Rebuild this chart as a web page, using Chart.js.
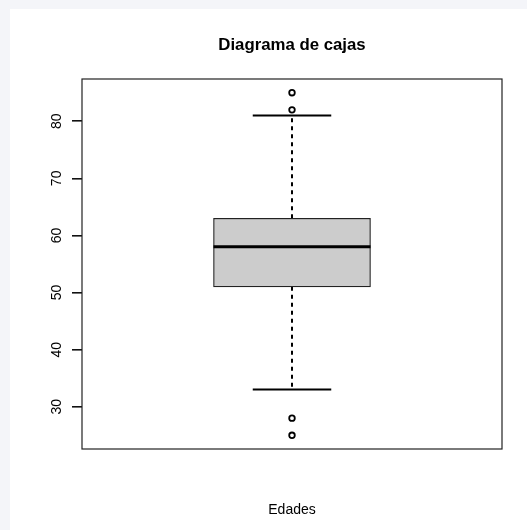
<!DOCTYPE html>
<html>
<head>
<meta charset="utf-8">
<script src="https://cdn.jsdelivr.net/npm/chart.js@4/dist/chart.umd.min.js"></script>
<style>
  html, body { margin: 0; padding: 0; background: #f4f5f9; }
  #panel { position: absolute; left: 10px; top: 9px; width: 517px; height: 521px; background: #ffffff; }
  canvas { display: block; }
</style>
</head>
<body>
<div id="panel"><canvas id="chart" width="517" height="521"></canvas></div>
<script>
// Age distribution summary (years)
const categories = ['Edades'];
const quartiles = [51, 58, 63];      // Q1, median, Q3
const whiskers = [33, 81];           // lower and upper whisker ends
const outliers = [25, 28, 82, 85];
const yTicks = [30, 40, 50, 60, 70, 80];
const yRange = [22.6, 87.4];
const chartTitle = 'Diagrama de cajas';
const xTitle = 'Edades';

const FONT = "'Liberation Sans', Arial, Helvetica, sans-serif";

// Whiskers, caps, median and frame drawn from the box element and the y scale
const boxWhiskers = {
  id: 'boxWhiskers',
  beforeDatasetsDraw(chart) {
    const { ctx } = chart;
    const y = chart.scales.y;
    const bar = chart.getDatasetMeta(1).data[0];
    const { x: cx, width } = bar.getProps(['x', 'width'], true);
    const capHalf = width / 4;
    ctx.save();
    ctx.strokeStyle = '#000';
    ctx.lineWidth = 2;
    ctx.setLineDash([4, 4]);
    ctx.beginPath();
    ctx.moveTo(cx, y.getPixelForValue(quartiles[2]));
    ctx.lineTo(cx, y.getPixelForValue(whiskers[1]));
    ctx.moveTo(cx, y.getPixelForValue(quartiles[0]));
    ctx.lineTo(cx, y.getPixelForValue(whiskers[0]));
    ctx.stroke();
    ctx.setLineDash([]);
    ctx.beginPath();
    for (const w of whiskers) {
      const py = y.getPixelForValue(w);
      ctx.moveTo(cx - capHalf, py);
      ctx.lineTo(cx + capHalf, py);
    }
    ctx.stroke();
    ctx.restore();
  },
  afterDatasetsDraw(chart) {
    const { ctx } = chart;
    const y = chart.scales.y;
    const bar = chart.getDatasetMeta(1).data[0];
    const { x: cx, width } = bar.getProps(['x', 'width'], true);
    const py = y.getPixelForValue(quartiles[1]);
    ctx.save();
    ctx.strokeStyle = '#000';
    ctx.lineWidth = 3;
    ctx.beginPath();
    ctx.moveTo(cx - width / 2, py);
    ctx.lineTo(cx + width / 2, py);
    ctx.stroke();
    ctx.restore();
  },
  afterDraw(chart) {
    const { ctx, chartArea: a } = chart;
    ctx.save();
    ctx.strokeStyle = '#222';
    ctx.lineWidth = 1.2;
    ctx.strokeRect(a.left, a.top, a.right - a.left, a.bottom - a.top);
    ctx.restore();
  }
};

new Chart(document.getElementById('chart'), {
  type: 'bar',
  data: {
    labels: categories,
    datasets: [
      {
        type: 'line',
        label: 'Atípicos',
        data: outliers.map(v => ({ x: categories[0], y: v })),
        showLine: false,
        pointStyle: 'circle',
        pointRadius: 2.8,
        pointBorderWidth: 1.8,
        pointBorderColor: '#000',
        pointBackgroundColor: '#fff',
        order: 0
      },
      {
        label: 'Caja',
        data: [[quartiles[0], quartiles[2]]],
        backgroundColor: '#cccccc',
        borderColor: '#222',
        borderWidth: 1.2,
        borderSkipped: false,
        barThickness: 157,
        order: 1
      }
    ]
  },
  options: {
    responsive: false,
    animation: false,
    events: [],
    layout: { padding: { left: 0, right: 25, top: 0, bottom: 0 } },
    plugins: {
      legend: { display: false },
      tooltip: { enabled: false }
    },
    scales: {
      x: {
        grid: { display: false },
        border: { display: false },
        ticks: { display: false },
        title: {
          display: true, text: xTitle, color: '#000',
          font: { family: FONT, size: 14 },
          padding: { top: 0, bottom: 11.8 }
        },
        afterFit: s => { s.height = 81; }
      },
      top: {
        type: 'category',
        position: 'top',
        grid: { display: false },
        border: { display: false },
        ticks: { display: false },
        title: {
          display: true, text: chartTitle, color: '#000',
          font: { family: FONT, size: 16.8, weight: 'bold' },
          padding: { top: 26.2, bottom: 0 }
        },
        afterFit: s => { s.height = 70; }
      },
      y: {
        min: yRange[0],
        max: yRange[1],
        afterBuildTicks: s => { s.ticks = yTicks.map(v => ({ value: v })); },
        afterFit: s => { s.width = 72; },
        border: { display: false },
        grid: { drawOnChartArea: false, drawTicks: true, tickLength: 10, color: '#111', lineWidth: 1.6 },
        ticks: {
          minRotation: 90, maxRotation: 90, crossAlign: 'center', padding: 7.5,
          color: '#000', font: { family: FONT, size: 14 }
        }
      }
    }
  },
  plugins: [boxWhiskers]
});
</script>
</body>
</html>
